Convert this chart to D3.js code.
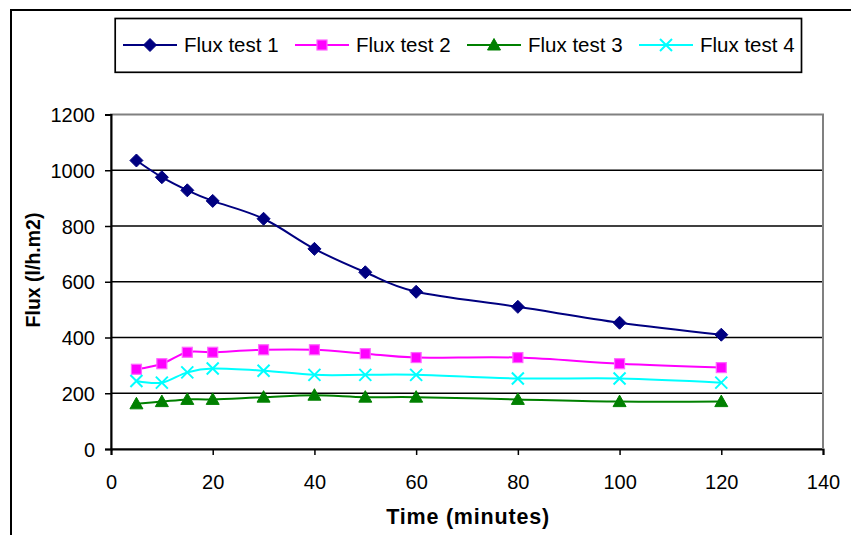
<!DOCTYPE html>
<html>
<head>
<meta charset="utf-8">
<script src="https://cdn.jsdelivr.net/npm/d3@7"></script>
<style>
  html, body { margin: 0; padding: 0; background: #fff; }
  svg { display: block; font-family: "Liberation Sans", Arial, sans-serif; }
</style>
</head>
<body>
<svg id="chart" width="851" height="535"></svg>
<script>
// ---- data ----
const times = [5, 10, 15, 20, 30, 40, 50, 60, 80, 100, 120];
const flux1 = [1035, 975, 928, 890, 826, 718, 634, 564, 510, 453, 410];
const flux2 = [286, 306, 347, 347, 356, 356, 342, 328, 328, 306, 292];
const flux3 = [162, 170, 178, 178, 186, 193, 186, 186, 178, 170, 170];
const flux4 = [244, 238, 275, 289, 281, 266, 266, 266, 253, 253, 238];
const seriesNames = ["Flux test 1", "Flux test 2", "Flux test 3", "Flux test 4"];
const xTicks = [0, 20, 40, 60, 80, 100, 120, 140];
const yTicks = [0, 200, 400, 600, 800, 1000, 1200];
const xTitle = "Time (minutes)";
const yTitle = "Flux (l/h.m2)";

// ---- styles ----
const colors = ["#000080", "#FF00FF", "#008000", "#00FFFF"];
const shapes = ["diamond", "square", "triangle", "cross"];
const allSeries = [flux1, flux2, flux3, flux4];

const svg = d3.select("#chart");
const plot = { left: 111, right: 823, top: 114.5, bottom: 449 };

const x = d3.scaleLinear().domain([0, 140]).range([plot.left, plot.right]);
const y = d3.scaleLinear().domain([0, 1200]).range([plot.bottom, plot.top]);

// outer chart border (extends beyond the view on right/bottom)
svg.append("rect").attr("x", 11).attr("y", 10).attr("width", 900).attr("height", 600)
  .attr("fill", "#fff").attr("stroke", "#000").attr("stroke-width", 2);

// plot area
svg.append("rect").attr("x", plot.left).attr("y", plot.top)
  .attr("width", plot.right - plot.left).attr("height", plot.bottom - plot.top)
  .attr("fill", "#fff").attr("stroke", "#808080").attr("stroke-width", 2);

// gridlines
svg.append("g").selectAll("line").data(yTicks.filter(v => v > 0 && v < 1200)).join("line")
  .attr("x1", plot.left).attr("x2", plot.right)
  .attr("y1", d => y(d)).attr("y2", d => y(d))
  .attr("stroke", "#000").attr("stroke-width", 1.6);

// y axis
const yAxis = d3.axisLeft(y).tickValues(yTicks).tickSize(6).tickPadding(10).tickFormat(d3.format("d"));
const gy = svg.append("g").attr("transform", `translate(${plot.left},0)`).call(yAxis);
gy.select(".domain").attr("stroke", "#000").attr("stroke-width", 2);
gy.selectAll(".tick line").attr("stroke", "#000").attr("stroke-width", 1.5);
gy.selectAll(".tick text").attr("font-size", 20).attr("font-family", "Liberation Sans, Arial, sans-serif")
  .attr("fill", "#000").attr("dy", "0.36em");

// x axis
const xAxis = d3.axisBottom(x).tickValues(xTicks).tickSize(6).tickPadding(20).tickFormat(d3.format("d"));
const gx = svg.append("g").attr("transform", `translate(0,${plot.bottom})`).call(xAxis);
gx.select(".domain").attr("stroke", "#000").attr("stroke-width", 2);
gx.selectAll(".tick line").attr("stroke", "#000").attr("stroke-width", 1.5);
gx.selectAll(".tick text").attr("font-size", 20).attr("font-family", "Liberation Sans, Arial, sans-serif")
  .attr("fill", "#000");

// right edge of plot in gray again (over axis end)
svg.append("line").attr("x1", plot.right).attr("x2", plot.right)
  .attr("y1", plot.top).attr("y2", plot.bottom)
  .attr("stroke", "#808080").attr("stroke-width", 2);

// axis titles
svg.append("text").attr("x", (plot.left + plot.right) / 2 + 1).attr("y", 524)
  .attr("text-anchor", "middle").attr("font-weight", "bold").attr("font-size", 21.5)
  .attr("letter-spacing", "0.8px").text(xTitle);
svg.append("text").attr("transform", "translate(40,270) rotate(-90)")
  .attr("text-anchor", "middle").attr("font-weight", "bold").attr("font-size", 19.5)
  .text(yTitle);

// markers
function drawMarker(g, shape, color, cx, cy) {
  if (shape === "diamond") {
    g.append("path").attr("d", `M${cx},${cy - 6.5}L${cx + 6.5},${cy}L${cx},${cy + 6.5}L${cx - 6.5},${cy}Z`)
      .attr("fill", color).attr("stroke", color).attr("stroke-width", 1);
  } else if (shape === "square") {
    g.append("rect").attr("x", cx - 5).attr("y", cy - 5).attr("width", 10).attr("height", 10)
      .attr("fill", color).attr("stroke", "#ff66ff").attr("stroke-width", 1.2);
  } else if (shape === "triangle") {
    g.append("path").attr("d", `M${cx},${cy - 6.5}L${cx + 6.5},${cy + 5}L${cx - 6.5},${cy + 5}Z`)
      .attr("fill", color).attr("stroke", color).attr("stroke-width", 1);
  } else {
    g.append("path").attr("d", `M${cx - 6},${cy - 6}L${cx + 6},${cy + 6}M${cx - 6},${cy + 6}L${cx + 6},${cy - 6}`)
      .attr("fill", "none").attr("stroke", color).attr("stroke-width", 2);
  }
}

const line = d3.line().x(d => x(d[0])).y(d => y(d[1])).curve(d3.curveCatmullRom.alpha(0));

allSeries.forEach((vals, i) => {
  const pts = times.map((t, j) => [t, vals[j]]);
  const g = svg.append("g");
  g.append("path").datum(pts).attr("d", line)
    .attr("fill", "none").attr("stroke", colors[i]).attr("stroke-width", 2);
  pts.forEach(p => drawMarker(g, shapes[i], colors[i], x(p[0]), y(p[1])));
});

// legend
svg.append("rect").attr("x", 115.2).attr("y", 18.5).attr("width", 686.3).attr("height", 53.8)
  .attr("fill", "#fff").attr("stroke", "#000").attr("stroke-width", 1.7);
const legendTextX = [184, 356, 528, 700];
seriesNames.forEach((name, i) => {
  const g = svg.append("g");
  const tx = legendTextX[i];
  g.append("line").attr("x1", tx - 61).attr("x2", tx - 7).attr("y1", 45).attr("y2", 45)
    .attr("stroke", colors[i]).attr("stroke-width", 2);
  drawMarker(g, shapes[i], colors[i], tx - 34, 45);
  g.append("text").attr("x", tx).attr("y", 52.3).attr("font-size", 20.5).attr("fill", "#000").text(name);
});
</script>
</body>
</html>
